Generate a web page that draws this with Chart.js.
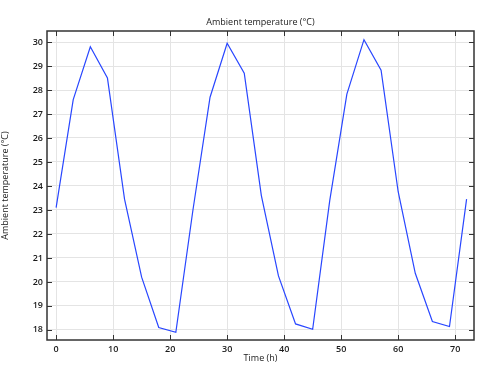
<!DOCTYPE html>
<html>
<head>
<meta charset="utf-8">
<script src="https://cdn.jsdelivr.net/npm/chart.js@4"></script>
<style>
  html, body { margin: 0; padding: 0; background: #fff; }
  #wrap { width: 479px; height: 366px; }
</style>
</head>
<body>
<div id="wrap"><canvas id="myChart" width="479" height="366"></canvas></div>
<script>
// data
const hours = [0, 3, 6, 9, 12, 15, 18, 21, 24, 27, 30, 33, 36, 39, 42, 45, 48, 51, 54, 57, 60, 63, 66, 69, 72];
const temps = [23.1, 27.6, 29.8, 28.5, 23.45, 20.2, 18.1, 17.9, 23.0, 27.7, 29.95, 28.7, 23.6, 20.25, 18.25, 18.03, 23.4, 27.83, 30.1, 28.83, 23.76, 20.36, 18.35, 18.14, 23.45];
const xTicks = [0, 10, 20, 30, 40, 50, 60, 70];
const yTicks = [18, 19, 20, 21, 22, 23, 24, 25, 26, 27, 28, 29, 30];
const chartTitle = 'Ambient temperature (°C)';

const fam = "'Open Sans', sans-serif";
const tickFont = { family: fam, size: 9, weight: '600' };
const labelFont = { family: fam, size: 9, weight: 'normal' };
const textColor = '#1a1a1a';

// inward tick marks, frame and a title centred on the plot area
const frameTicks = {
  id: 'frameTicks',
  afterDraw(chart) {
    const { ctx, chartArea: a, scales } = chart;
    ctx.save();
    ctx.strokeStyle = '#333';
    ctx.lineWidth = 1;
    ctx.beginPath();
    xTicks.forEach(v => {
      const px = Math.round(scales.x.getPixelForValue(v)) + 0.5;
      ctx.moveTo(px, a.bottom); ctx.lineTo(px, a.bottom - 5);
      ctx.moveTo(px, a.top); ctx.lineTo(px, a.top + 5);
    });
    yTicks.forEach(v => {
      const py = Math.round(scales.y.getPixelForValue(v)) + 0.5;
      ctx.moveTo(a.left, py); ctx.lineTo(a.left + 5, py);
      ctx.moveTo(a.right, py); ctx.lineTo(a.right - 5, py);
    });
    ctx.stroke();
    ctx.lineWidth = 1.5;
    ctx.strokeRect(a.left, a.top, a.right - a.left, a.bottom - a.top);

    ctx.fillStyle = textColor;
    ctx.font = '9px ' + fam;
    ctx.textAlign = 'center';
    ctx.textBaseline = 'middle';
    ctx.fillText(chartTitle, (a.left + a.right) / 2, 22);
    ctx.restore();
  }
};

const config = {
  type: 'line',
  data: {
    datasets: [{
      label: 'Ambient temperature',
      data: hours.map((h, i) => ({ x: h, y: temps[i] })),
      borderColor: 'rgb(40, 70, 255)',
      borderWidth: 1.2,
      pointRadius: 0,
      tension: 0,
      fill: false
    }]
  },
  plugins: [frameTicks],
  options: {
    responsive: false,
    animation: false,
    layout: { padding: { left: 0, right: 5, top: 31, bottom: 0 } },
    plugins: {
      legend: { display: false },
      tooltip: { enabled: false },
      title: { display: false }
    },
    scales: {
      x: {
        type: 'linear',
        min: -1.6,
        max: 73.3,
        afterBuildTicks: s => { s.ticks = xTicks.map(v => ({ value: v })); },
        afterFit: s => { s.height = 26; },
        grid: { color: '#e4e4e4', drawTicks: false },
        border: { display: false },
        ticks: { color: textColor, font: tickFont, padding: 4, maxRotation: 0 },
        title: { display: true, text: 'Time (h)', color: textColor, font: labelFont, padding: { top: 0, bottom: 2 } }
      },
      y: {
        type: 'linear',
        min: 17.58,
        max: 30.46,
        afterBuildTicks: s => { s.ticks = yTicks.map(v => ({ value: v })); },
        afterFit: s => { s.width = 47; },
        grid: { color: '#e4e4e4', drawTicks: false },
        border: { display: false },
        ticks: { color: textColor, font: tickFont, padding: 4 },
        title: { display: true, text: 'Ambient temperature (°C)', color: textColor, font: labelFont, padding: { top: 0, bottom: 0 } }
      }
    }
  }
};

const myChart = new Chart(document.getElementById('myChart'), config);
</script>
</body>
</html>
